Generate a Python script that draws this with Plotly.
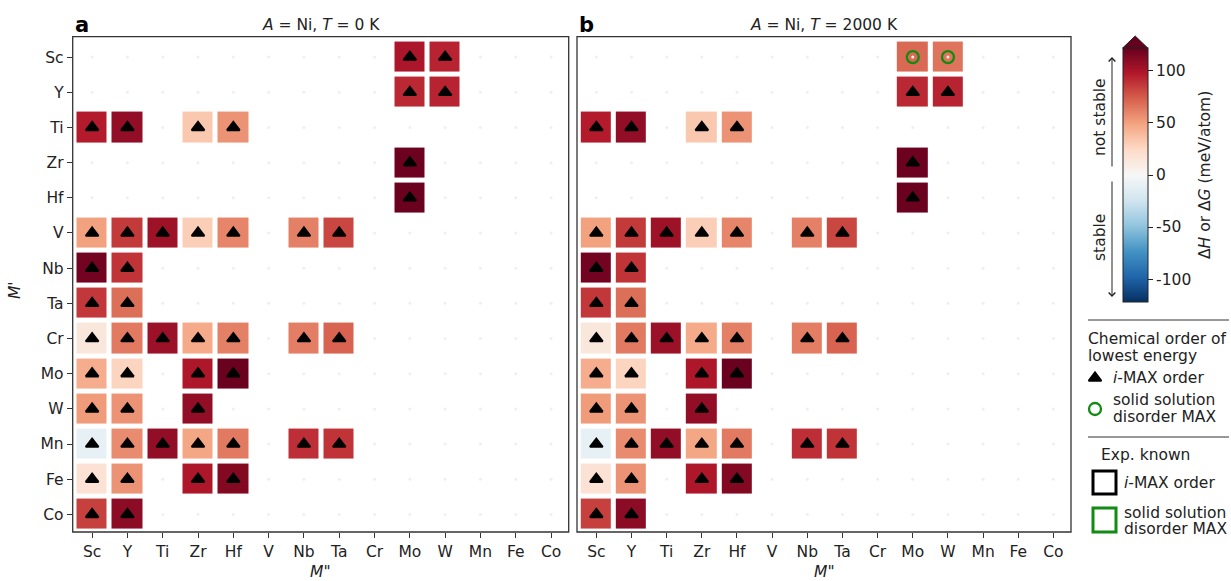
import plotly.graph_objects as go

# ---------------------------------------------------------------- data
elements = ["Sc", "Y", "Ti", "Zr", "Hf", "V", "Nb", "Ta", "Cr", "Mo", "W", "Mn", "Fe", "Co"]
N = None

# formation energy (meV/atom) of (M'_2/3 M''_1/3)_2 Ni C, rows = M', columns = M''
dH_0K = [
    [N, N, N, N, N, N, N, N, N, 100, 94, N, N, N],     # Sc
    [N, N, N, N, N, N, N, N, N, 92, 94, N, N, N],      # Y
    [97, 108, N, 33, 55, N, N, N, N, N, N, N, N, N],   # Ti
    [N, N, N, N, N, N, N, N, N, 120, N, N, N, N],      # Zr
    [N, N, N, N, N, N, N, N, N, 121, N, N, N, N],      # Hf
    [50, 86, 104, 30, 60, N, 62, 82, N, N, N, N, N, N],  # V
    [118, 88, N, N, N, N, N, N, N, N, N, N, N, N],     # Nb
    [87, 68, N, N, N, N, N, N, N, N, N, N, N, N],      # Ta
    [14, 64, 105, 46, 62, N, 63, 72, N, N, N, N, N, N],  # Cr
    [45, 27, N, 99, 121, N, N, N, N, N, N, N, N, N],   # Mo
    [52, 55, N, 108, N, N, N, N, N, N, N, N, N, N],    # W
    [-10, 58, 108, 48, 64, N, 90, 88, N, N, N, N, N, N],  # Mn
    [18, 55, N, 99, 113, N, N, N, N, N, N, N, N, N],   # Fe
    [84, 110, N, N, N, N, N, N, N, N, N, N, N, N],     # Co
]

# free energy at 2000 K: identical except the Sc row
dG_2000K = [row[:] for row in dH_0K]
dG_2000K[0] = [N, N, N, N, N, N, N, N, N, 70, 66, N, N, N]

# cells whose lowest-energy chemical order at 2000 K is the solid solution
disorder_2000K = [(0, 9), (0, 10)]

vmin, vmax = -122, 122
rdbu_r = ["#053061", "#2166ac", "#4393c3", "#92c5de", "#d1e5f0", "#f7f7f7",
          "#fddbc7", "#f4a582", "#d6604d", "#b2182b", "#67001f"]
colorscale = [[i / (len(rdbu_r) - 1), c] for i, c in enumerate(rdbu_r)]
GREEN = "#138a13"

# ---------------------------------------------------------------- layout geometry (px)
W, H = 1231, 581
FONT = "DejaVu Sans"
FS = 15.5
panel_a = (72.7, 568.7)
panel_b = (577.0, 1071.0)
panel_top, panel_bot = 36.7, 532.0
cb_left, cb_thick, cb_top, cb_bot = 1122.7, 25, 48, 302


def px(x):
    return x / W


def py(y):
    return 1 - y / H


idx = list(range(len(elements)))
fig = go.Figure()

tri_marker = dict(symbol="triangle-up", size=11, color="black",
                  line=dict(color="black", width=2))
circ_marker = dict(symbol="circle-open", size=12, color=GREEN,
                   line=dict(color=GREEN, width=2.3))


def add_panel(values, xa, ya, circles):
    fig.add_trace(go.Heatmap(
        z=values, x=idx, y=idx, coloraxis="coloraxis",
        xgap=5, ygap=5, xaxis=xa, yaxis=ya, hoverongaps=False))
    # faint grid dots on every cell
    gx = [c for r in idx for c in idx]
    gy = [r for r in idx for c in idx]
    fig.add_trace(go.Scatter(x=gx, y=gy, mode="markers", xaxis=xa, yaxis=ya,
                             marker=dict(size=3, color="#efefef"), hoverinfo="skip",
                             showlegend=False))
    tx, ty, cx, cy = [], [], [], []
    for r in idx:
        for c in idx:
            if values[r][c] is None:
                continue
            if (r, c) in circles:
                cx.append(c); cy.append(r)
            else:
                tx.append(c); ty.append(r)
    fig.add_trace(go.Scatter(x=tx, y=ty, mode="markers", xaxis=xa, yaxis=ya,
                             marker=tri_marker, hoverinfo="skip", showlegend=False))
    if cx:
        fig.add_trace(go.Scatter(x=cx, y=cy, mode="markers", xaxis=xa, yaxis=ya,
                                 marker=circ_marker, hoverinfo="skip", showlegend=False))


add_panel(dH_0K, "x", "y", [])
add_panel(dG_2000K, "x2", "y2", disorder_2000K)

# legend glyphs on a full-page pixel axis
fig.add_trace(go.Scatter(x=[1095], y=[378], mode="markers", xaxis="x3", yaxis="y3",
                         marker=tri_marker, hoverinfo="skip", showlegend=False))
fig.add_trace(go.Scatter(x=[1095], y=[409], mode="markers", xaxis="x3", yaxis="y3",
                         marker=circ_marker, hoverinfo="skip", showlegend=False))

tickfont = dict(family=FONT, size=FS, color="#222")
axis_common = dict(
    tickmode="array", tickvals=idx, ticktext=elements, tickfont=tickfont,
    showgrid=False, zeroline=False, showline=False,
    ticks="outside", ticklen=5, tickcolor="#333", tickwidth=1.2,
)

fig.update_layout(
    width=W, height=H, autosize=False,
    margin=dict(l=0, r=0, t=0, b=0),
    paper_bgcolor="white", plot_bgcolor="rgba(0,0,0,0)",
    font=dict(family=FONT, size=FS, color="#222"),
    xaxis=dict(domain=[px(panel_a[0]), px(panel_a[1])], range=[-0.55, 13.5], **axis_common),
    yaxis=dict(domain=[py(panel_bot), py(panel_top)], range=[13.5, -0.58], **axis_common),
    xaxis2=dict(domain=[px(panel_b[0]), px(panel_b[1])], range=[-0.55, 13.5], **axis_common),
    yaxis2=dict(domain=[py(panel_bot), py(panel_top)], range=[13.5, -0.58],
                **{**axis_common, "showticklabels": False, "ticks": ""}),
    xaxis3=dict(domain=[0, 1], range=[0, W], visible=False, fixedrange=True),
    yaxis3=dict(domain=[0, 1], range=[H, 0], visible=False, fixedrange=True),
    coloraxis=dict(
        colorscale=colorscale, cmin=vmin, cmax=vmax,
        colorbar=dict(
            x=px(cb_left), xanchor="left", xpad=0, ypad=0,
            y=py((cb_top + cb_bot) / 2), yanchor="middle",
            thickness=cb_thick, len=cb_bot - cb_top, lenmode="pixels",
            outlinewidth=1, outlinecolor="#222",
            tickmode="array", tickvals=[-100, -50, 0, 50, 100],
            ticktext=["-100", "-50", "0", "50", "100"],
            ticks="outside", ticklen=5, tickcolor="#222", tickfont=tickfont,
        ),
    ),
)

# panel frames
for xa, ya in (("x", "y"), ("x2", "y2")):
    fig.add_shape(type="rect", xref=f"{xa} domain", yref=f"{ya} domain",
                  x0=0, x1=1, y0=0, y1=1, line=dict(color="#333", width=1.3), layer="above")

# extend arrow on top of the colour bar
tip = cb_top - 12
fig.add_shape(type="path", xref="paper", yref="paper",
              path=(f"M {px(cb_left)},{py(cb_top)} L {px(cb_left + cb_thick)},{py(cb_top)} "
                    f"L {px(cb_left + cb_thick / 2)},{py(tip)} Z"),
              fillcolor=rdbu_r[-1], line=dict(color="#222", width=1))

ann = []
# panel letters and titles
for (x0, x1), letter, title in [(panel_a, "a", "<i>A</i> = Ni, <i>T</i> = 0 K"),
                                 (panel_b, "b", "<i>A</i> = Ni, <i>T</i> = 2000 K")]:
    ann.append(dict(x=px(x0), y=py(25), xref="paper", yref="paper", text="<b>" + letter + "</b>",
                    showarrow=False, xanchor="left", yanchor="middle",
                    font=dict(family=FONT, size=21, color="black")))
    ann.append(dict(x=px((x0 + x1) / 2), y=py(25), xref="paper", yref="paper", text=title,
                    showarrow=False, xanchor="center", yanchor="middle",
                    font=dict(family=FONT, size=FS, color="#222")))
    ann.append(dict(x=px((x0 + x1) / 2), y=py(572), xref="paper", yref="paper",
                    text="<i>M</i>\"", showarrow=False, xanchor="center", yanchor="middle",
                    font=dict(family=FONT, size=FS, color="#222")))
ann.append(dict(x=px(15), y=py(290), xref="paper", yref="paper", text="<i>M</i>'",
                showarrow=False, textangle=-90, xanchor="center", yanchor="middle",
                font=dict(family=FONT, size=FS, color="#222")))

# colour bar label
ann.append(dict(x=px(1205), y=py(175), xref="paper", yref="paper",
                text="Δ<i>H</i> or Δ<i>G</i> (meV/atom)", showarrow=False, textangle=-90,
                xanchor="center", yanchor="middle",
                font=dict(family=FONT, size=FS, color="#222")))

# stability arrows next to the colour bar
ann.append(dict(x=px(1112), y=py(57), xref="paper", yref="paper", ax=0, ay=111,
                text="", showarrow=True, arrowhead=4, arrowsize=1.3, arrowwidth=1,
                arrowcolor="#222"))
ann.append(dict(x=px(1112), y=py(297), xref="paper", yref="paper", ax=0, ay=-117,
                text="", showarrow=True, arrowhead=4, arrowsize=1.3, arrowwidth=1,
                arrowcolor="#222"))
ann.append(dict(x=px(1100), y=py(117), xref="paper", yref="paper", text="not stable",
                showarrow=False, textangle=-90, xanchor="center", yanchor="middle",
                font=dict(family=FONT, size=FS, color="#222")))
ann.append(dict(x=px(1100), y=py(238), xref="paper", yref="paper", text="stable",
                showarrow=False, textangle=-90, xanchor="center", yanchor="middle",
                font=dict(family=FONT, size=FS, color="#222")))

# legend texts
leg_font = dict(family=FONT, size=FS, color="#222")


def legend_text(x, y, text):
    ann.append(dict(x=px(x), y=py(y), xref="paper", yref="paper", text=text,
                    showarrow=False, xanchor="left", yanchor="middle", align="left",
                    font=leg_font))


legend_text(1086, 339, "Chemical order of")
legend_text(1086, 356, "lowest energy")
legend_text(1111, 378, "<i>i</i>-MAX order")
legend_text(1111, 400, "solid solution")
legend_text(1111, 417, "disorder MAX")
legend_text(1099, 455, "Exp. known")
legend_text(1122, 483, "<i>i</i>-MAX order")
legend_text(1122, 513, "solid solution")
legend_text(1122, 529, "disorder MAX")
fig.update_layout(annotations=ann)

# legend separators and experimental-marker boxes
for y in (320, 437):
    fig.add_shape(type="line", xref="paper", yref="paper", x0=px(1088), x1=px(1229),
                  y0=py(y), y1=py(y), line=dict(color="#333", width=1))
for (y0, y1), col in [((471, 494), "black"), ((508, 532), GREEN)]:
    fig.add_shape(type="rect", xref="paper", yref="paper", x0=px(1093), x1=px(1116),
                  y0=py(y1), y1=py(y0), line=dict(color=col, width=3))

fig.write_html("out.html")
